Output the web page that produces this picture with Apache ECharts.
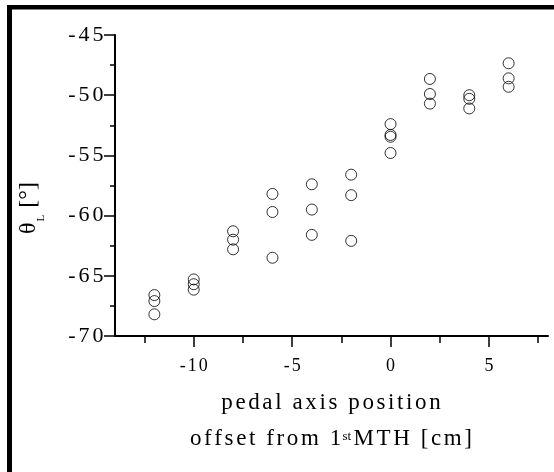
<!DOCTYPE html>
<html>
<head>
<meta charset="utf-8">
<script src="https://cdn.jsdelivr.net/npm/echarts@6/dist/echarts.min.js"></script>
<style>
  html, body { margin: 0; padding: 0; background: #fff; }
  #chart { width: 554px; height: 472px; }
</style>
</head>
<body>
<div id="chart"></div>
<script>
// pedal axis offsets [cm]
var offsets = [-12, -10, -8, -6, -4, -2, 0, 2, 4, 6];
// theta_L [deg], trials at each offset
var thetaL = [
    [-66.6, -67.1, -68.2],
    [-65.3, -65.7, -66.15],
    [-61.3, -62.0, -62.8],
    [-58.2, -59.7, -63.5],
    [-57.4, -59.5, -61.6],
    [-56.6, -58.3, -62.1],
    [-52.4, -53.3, -53.45, -54.8],
    [-48.65, -49.9, -50.7],
    [-50.0, -50.3, -51.1],
    [-47.35, -48.6, -49.3]
];
var xMajor = [-10, -5, 0, 5];
var xMinor = [-12.5, -7.5, -2.5, 2.5, 7.5];

var points = [];
offsets.forEach(function(x, i) {
    thetaL[i].forEach(function(y) { points.push([x, y]); });
});

var serif = 'Liberation Serif, Times New Roman, serif';

// spread letters a bit like the original figure
function spaced(str, style) {
    return str.split('').map(function(ch) {
        return '{' + style + '|' + ch + '}';
    }).join('');
}

var myChart = echarts.init(document.getElementById('chart'));

var option = {
    animation: false,
    backgroundColor: '#fff',
    grid: { left: 115, right: 6, top: 35, bottom: 136 },
    xAxis: [{
        type: 'value',
        min: -14,
        max: 8,
        position: 'bottom',
        splitLine: { show: false },
        axisLine: { onZero: false, lineStyle: { color: '#000', width: 2 } },
        axisTick: { customValues: xMajor, length: 11, lineStyle: { color: '#000', width: 1.5 } },
        axisLabel: {
            customValues: xMajor,
            margin: 21,
            formatter: function(v) { return spaced(String(v), 't'); },
            rich: { t: { fontFamily: serif, fontSize: 18, color: '#000', padding: [0, 1, 0, 1] } }
        }
    }, {
        type: 'value',
        min: -14,
        max: 8,
        position: 'bottom',
        splitLine: { show: false },
        axisLine: { show: false, onZero: false },
        axisTick: { customValues: xMinor, length: 7, lineStyle: { color: '#000', width: 1.5 } },
        axisLabel: { show: false }
    }],
    yAxis: {
        type: 'value',
        min: -70,
        max: -45,
        interval: 5,
        splitLine: { show: false },
        axisLine: { show: true, onZero: false, lineStyle: { color: '#000', width: 2 } },
        axisTick: { show: true, length: 11, lineStyle: { color: '#000', width: 1.5 } },
        minorTick: { show: true, splitNumber: 2, length: 5, lineStyle: { color: '#000', width: 1.5 } },
        axisLabel: {
            margin: 10,
            formatter: function(v) { return spaced(String(v), 't'); },
            rich: { t: { fontFamily: serif, fontSize: 22, color: '#000', padding: [0, 1.5, 0, 1.5] } }
        }
    },
    graphic: [
        // frame
        { type: 'rect', shape: { x: 7, y: 5, width: 5, height: 467 }, style: { fill: '#000' } },
        { type: 'rect', shape: { x: 7, y: 5, width: 547, height: 4.5 }, style: { fill: '#000' } },
        {
            type: 'text', x: 331, y: 403,
            style: {
                text: spaced('pedal axis position', 'a'),
                textAlign: 'center', textVerticalAlign: 'middle',
                rich: { a: { fontFamily: serif, fontSize: 23, fill: '#000', padding: [0, 1.3, 0, 1.3] } }
            }
        },
        {
            type: 'text', x: 331, y: 439,
            style: {
                text: spaced('offset from 1', 'a') + '{s|st}' + spaced('MTH [cm]', 'a'),
                textAlign: 'center', textVerticalAlign: 'middle',
                rich: {
                    a: { fontFamily: serif, fontSize: 23, fill: '#000', padding: [0, 1.3, 0, 1.3] },
                    s: { fontFamily: serif, fontSize: 13, fill: '#000', padding: [0, 1, 5, 0] }
                }
            }
        },
        {
            type: 'text', x: 29, y: 208, rotation: Math.PI / 2,
            style: {
                text: '{a|θ}{l|L}{a| [°]}',
                textAlign: 'center', textVerticalAlign: 'middle',
                rich: {
                    a: { fontFamily: serif, fontSize: 24, fill: '#000' },
                    l: { fontFamily: serif, fontSize: 11, fill: '#000', padding: [25, 1, 0, 1] }
                }
            }
        }
    ],
    series: [{
        type: 'scatter',
        symbol: 'circle',
        symbolSize: 11,
        data: points,
        itemStyle: { color: 'rgba(0,0,0,0)', borderColor: '#000', borderWidth: 1 },
        emphasis: { disabled: true }
    }]
};

myChart.setOption(option);
</script>
</body>
</html>
